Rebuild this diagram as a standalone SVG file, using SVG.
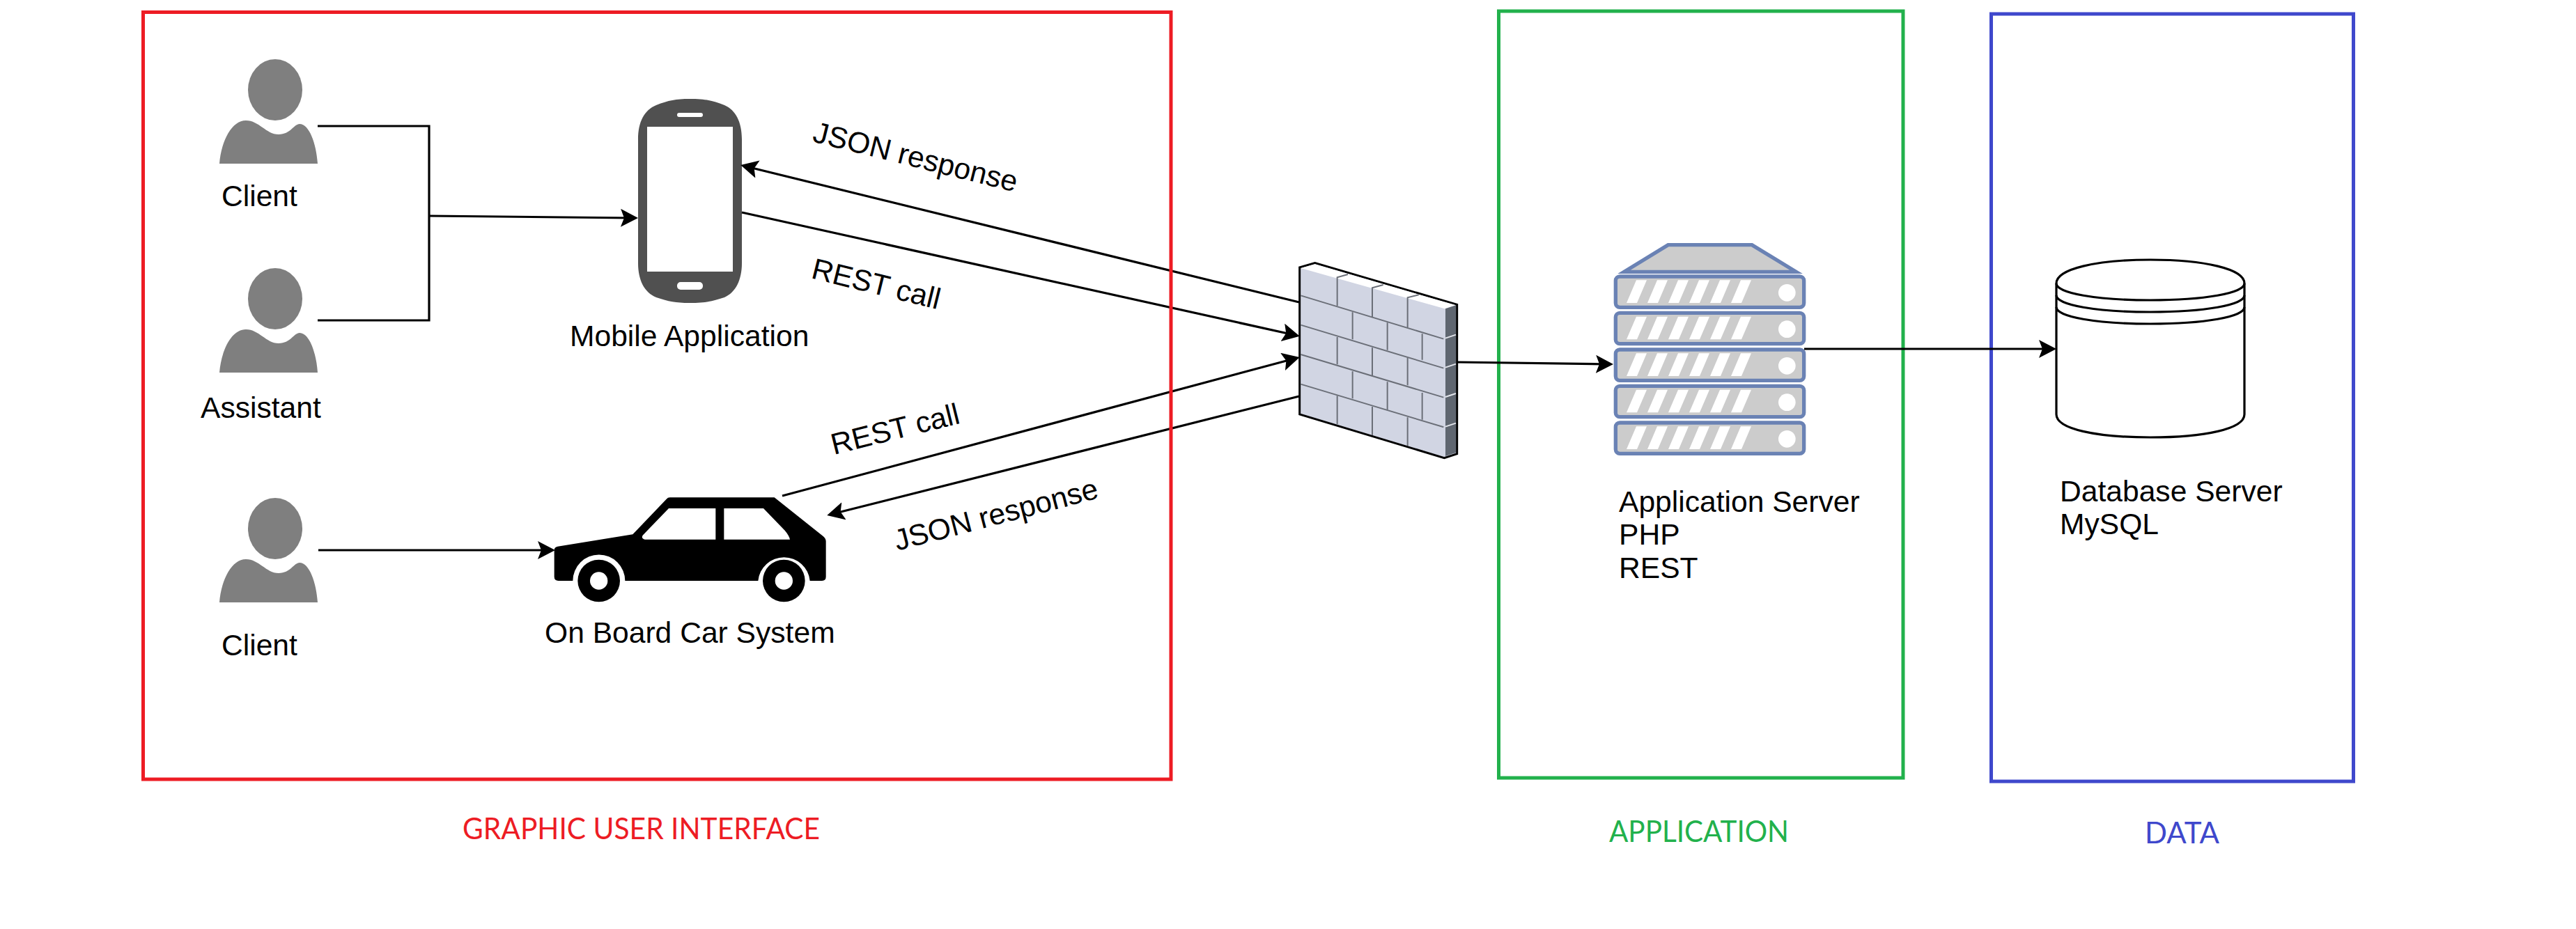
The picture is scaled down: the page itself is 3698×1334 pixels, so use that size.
<svg xmlns="http://www.w3.org/2000/svg" xmlns:xlink="http://www.w3.org/1999/xlink" width="3698" height="1334" viewBox="0 0 3698 1334">
<style>
.t{font-family:"Liberation Sans",Arial,sans-serif;font-size:42.600px;fill:#000}
.s{font-family:Lato,"Noto Sans",sans-serif;font-size:43px}
.c{fill:none;stroke:#000;stroke-width:3.200}
.a{marker-end:url(#arrow)}
.panel{fill:none;stroke-width:5}
.brick{fill:none;stroke:#6b6f78;stroke-width:6}
.mark{fill:none;stroke:#e2e4ea;stroke-width:6}
.person{fill:#7f7f7f}
</style>
<defs>
<marker id="arrow" markerUnits="userSpaceOnUse" viewBox="0 0 25 26" markerWidth="25" markerHeight="26" refX="17" refY="13" orient="auto"><path d="M0,0L25,13L0,26L5,13Z" fill="#000"/></marker>
<g id="person-shape"><ellipse cx="395" cy="129" rx="39" ry="44"/><path d="M315,235C318,201 333,173 353,173C372,173 382,193 400,193C417,193 422,178 430,178C444,178 454,206 456,235Z"/></g>
<g id="rack"><rect x="58" y="171" width="811" height="133" rx="18" fill="#ccc" stroke="#6a82b4" stroke-width="16"/><path fill="#fff" d="M105,285L147,187H192L150,285ZM195,285L237,187H282L240,285ZM285,285L327,187H372L330,285ZM375,285L417,187H462L420,285ZM465,285L507,187H552L510,285ZM555,285L597,187H642L600,285Z"/><circle cx="796" cy="241" r="37" fill="#fff"/></g>
</defs>
<rect width="3698" height="1334" fill="#fff"/>
<g id="panel-application"><rect class="panel" x="2151.500" y="16" width="580.500" height="1101" stroke="#22b14c"/><text class="s" x="2310" y="1209" fill="#22b14c" textLength="258" lengthAdjust="spacingAndGlyphs">APPLICATION</text></g>
<g id="panel-data"><rect class="panel" x="2858.500" y="20" width="520" height="1102" stroke="#3f48cc"/><text class="s" x="3079" y="1211" fill="#3f48cc" textLength="107" lengthAdjust="spacingAndGlyphs">DATA</text></g>
<g id="client-1"><use xlink:href="#person-shape" href="#person-shape" class="person"/><text class="t" x="318" y="296">Client</text></g>
<g id="assistant"><use xlink:href="#person-shape" href="#person-shape" class="person" y="300"/><text class="t" x="288" y="600">Assistant</text></g>
<g id="client-2"><use xlink:href="#person-shape" href="#person-shape" class="person" y="630"/><text class="t" x="318" y="941">Client</text></g>
<g id="mobile-application">
<path fill="#505050" fill-rule="evenodd" d="M916,200C916,175 925,158 942,151C960,144 970,142 990,142C1012,142 1022,144 1040,151C1056,158 1065,175 1065,200V378C1065,402 1056,420 1040,427C1022,433 1012,435 990,435C970,435 960,433 942,427C925,420 916,402 916,378ZM929,182V390H1052V182ZM975,162A3,3 0 0 0 975,168H1006A3,3 0 0 0 1006,162ZM977,405A5,5 0 0 0 972,410V411A5,5 0 0 0 977,416H1004A5,5 0 0 0 1009,411V410A5,5 0 0 0 1004,405Z"/>
<text class="t" x="818" y="497">Mobile Application</text>
</g>
<g id="on-board-car-system">
<g transform="translate(780 690) scale(.33333)">
<path fill="#000" fill-rule="evenodd" d="M47,300Q47,287 62,284L385,232L530,80Q536,73 545,73H995L1205,240Q1217,250 1217,262V415Q1217,432 1200,432H1148A112,112 0 0 0 925,432H352A112,112 0 0 0 127,432H65Q47,432 47,415ZM540,120L428,236Q420,250 438,254H742V120ZM778,120V254H1062Q1060,240 1040,215L948,120Z"/>
<path fill="#000" fill-rule="evenodd" d="M148,432a91,91 0 1 0 182,0a91,91 0 1 0 -182,0ZM201,432a38,38 0 1 1 76,0a38,38 0 1 1 -76,0Z"/>
<path fill="#000" fill-rule="evenodd" d="M945,432a91,91 0 1 0 182,0a91,91 0 1 0 -182,0ZM998,432a38,38 0 1 1 76,0a38,38 0 1 1 -76,0Z"/>
</g>
<text class="t" x="782" y="923">On Board Car System</text>
</g>
<g id="firewall" transform="translate(1820 340) scale(.33333)">
<path d="M137,132L203,113L815,292V935L760,953L137,765Z" fill="#d1d5e3" stroke="#000" stroke-width="9" stroke-linejoin="miter"/>
<path d="M142,135L203,118L810,295L762,310Z" fill="#fff"/>
<path d="M765,310L810,295V930L765,945Z" fill="#5f6670"/>
<path class="brick" d="M142,253L757,440M142,380L757,566M142,507L757,692M142,635L757,820"/>
<path class="brick" d="M345,162L299,175V298M497,207L450,220V345M650,250L602,262V390M365,325V442M515,370V488M665,418V530M299,432V550M450,478V597M602,522V640M365,580V697M515,625V745M665,672V788M299,685V808M450,732V855M602,778V900"/>
<path class="mark" d="M765,437L810,422M765,563L810,548M765,690L810,675M765,818L810,803"/>
</g>
<g id="application-server">
<g transform="translate(2300 340) scale(.33333)">
<path d="M95,151L284,35H645L835,151Z" fill="#ccc" stroke="#6a82b4" stroke-width="16"/>
<use xlink:href="#rack" href="#rack"/><use xlink:href="#rack" href="#rack" y="157"/><use xlink:href="#rack" href="#rack" y="315"/><use xlink:href="#rack" href="#rack" y="472"/><use xlink:href="#rack" href="#rack" y="630"/>
</g>
<text class="t" x="2324" y="735">Application Server</text>
<text class="t" x="2324" y="782">PHP</text>
<text class="t" x="2324" y="830">REST</text>
</g>
<g id="database-server">
<path d="M2952,407C2952,386 3010,373 3087,373S3222,386 3222,407V595C3222,616 3165,628 3087,628S2952,616 2952,595Z" fill="#fff" stroke="#000" stroke-width="3.200"/>
<path class="c" d="M2952,407C2952,421 3010,431 3087,431S3222,421 3222,407M2952,424C2952,438 3010,448 3087,448S3222,438 3222,424M2952,441C2952,455 3010,465 3087,465S3222,455 3222,441"/>
<text class="t" x="2957" y="720">Database Server</text>
<text class="t" x="2957" y="767">MySQL</text>
</g>
<g id="connectors">
<path class="c" d="M456,181H616V460H456"/>
<path class="c a" d="M616,310L908,313"/>
<path class="c a" d="M1865,434L1071,239"/>
<path class="c a" d="M1065,305L1858,481"/>
<path class="c a" d="M457,790H789"/>
<path class="c a" d="M1123,712L1858,515"/>
<path class="c a" d="M1865,569L1195,738"/>
<path class="c a" d="M2092,520L2308,523"/>
<path class="c a" d="M2590,501H2944"/>
</g>
<g id="panel-gui"><rect class="panel" x="205.500" y="17.500" width="1475.500" height="1101.500" stroke="#ed1c24"/><text class="s" x="664" y="1205" fill="#ed1c24" textLength="513" lengthAdjust="spacingAndGlyphs">GRAPHIC USER INTERFACE</text></g>
<g id="connector-labels">
<text class="t" transform="translate(1165 203) rotate(14)">JSON response</text>
<text class="t" transform="translate(1163 399) rotate(13.900)">REST call</text>
<text class="t" transform="translate(1197 653) rotate(-14)">REST call</text>
<text class="t" transform="translate(1288 791) rotate(-14.700)">JSON response</text>
</g>
</svg>
